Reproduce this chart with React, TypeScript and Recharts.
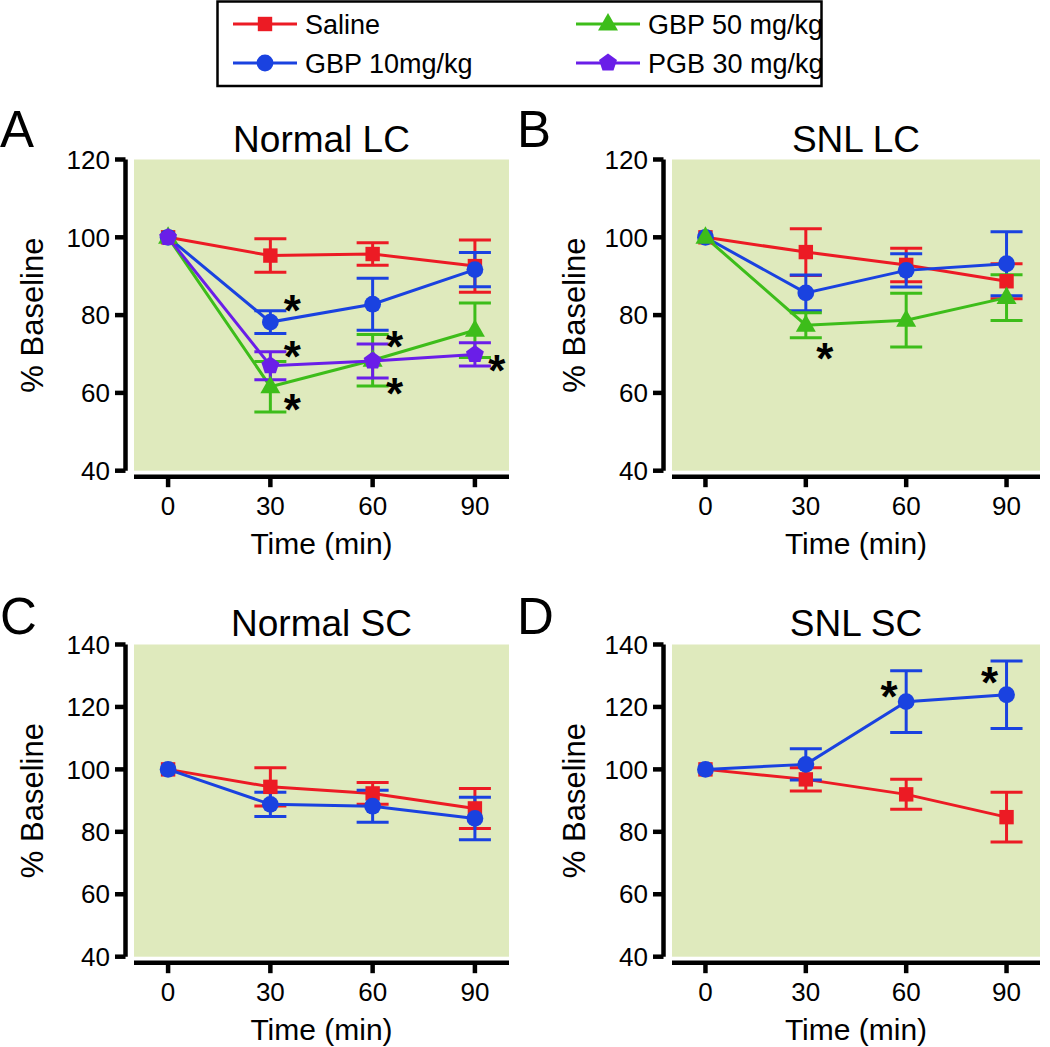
import { CartesianGrid, ComposedChart, ErrorBar, Line, Scatter, XAxis, YAxis } from "recharts";

const FONT = "'Liberation Sans', Arial, sans-serif";
const BG = "#dfeabd";

const times = [0, 30, 60, 90];

// A - Normal LC
const normalLcSaline = [100, 95.3, 95.7, 92.6];
const normalLcSalineErr = [0, 4.3, 2.9, 6.7];
const normalLcGbp10 = [100, 78.2, 82.8, 91.7];
const normalLcGbp10Err = [0, 2.9, 6.7, 4.4];
const normalLcGbp50 = [100, 61.6, 68.4, 76.1];
const normalLcGbp50Err = [0, 6.5, 6.6, 7.0];
const normalLcPgb30 = [100, 67.0, 68.2, 69.9];
const normalLcPgb30Err = [0, 3.6, 4.4, 3.0];
const normalLcStars = [{ t: 30, v: 83.4 }, { t: 30, v: 71.6 }, { t: 30, v: 57.8 }, { t: 60, v: 74.1 }, { t: 60, v: 62.1 }, { t: 90, v: 67.9 }];

// B - SNL LC
const snlLcSaline = [100, 96.2, 92.9, 88.7];
const snlLcSalineErr = [0, 6.0, 4.3, 4.5];
const snlLcGbp10 = [100, 85.7, 91.5, 93.2];
const snlLcGbp10Err = [0, 4.6, 4.3, 8.2];
const snlLcGbp50 = [100, 77.4, 78.7, 84.5];
const snlLcGbp50Err = [0, 3.2, 6.9, 5.9];
const snlLcStars = [{ t: 30, v: 71.1 }];

// C - Normal SC
const normalScSaline = [100, 94.4, 92.3, 87.5];
const normalScSalineErr = [0, 6.1, 3.5, 6.4];
const normalScGbp10 = [100, 88.8, 88.2, 84.3];
const normalScGbp10Err = [0, 3.9, 5.1, 6.8];

// D - SNL SC
const snlScSaline = [100, 96.8, 92.0, 84.7];
const snlScSalineErr = [0, 3.7, 4.8, 8.0];
const snlScGbp10 = [100, 101.6, 121.7, 123.9];
const snlScGbp10Err = [0, 5.0, 9.9, 10.8];
const snlScStars = [{ t: 60, v: 126.2 }, { t: 90, v: 130.6 }];

const lcTicks = [40, 60, 80, 100, 120];
const scTicks = [40, 60, 80, 100, 120, 140];

type Shape = "square" | "circle" | "triangle" | "pentagon";
type Series = { key: string, name: string, color: string, shape: Shape };

const saline: Series = { key: "saline", name: "Saline", color: "#ec1b24", shape: "square" };
const gbp10: Series = { key: "gbp10", name: "GBP 10mg/kg", color: "#1a42e0", shape: "circle" };
const gbp50: Series = { key: "gbp50", name: "GBP 50 mg/kg", color: "#3dbd1a", shape: "triangle" };
const pgb30: Series = { key: "pgb30", name: "PGB 30 mg/kg", color: "#6a1ee8", shape: "pentagon" };

const buildRows = (cols: Record<string, number[]>) =>
    times.map((t, i) => {
        const row: Record<string, number> = { t };
        Object.keys(cols).forEach(k => { row[k] = cols[k][i]; });
        return row;
    });

const Marker = ({ shape, cx, cy, color }: { shape: Shape, cx?: number, cy?: number, color: string }) => {
    if (cx == null || cy == null) return null;
    if (shape === "square") return <rect x={cx - 7.2} y={cy - 7.2} width={14.4} height={14.4} fill={color} />;
    if (shape === "circle") return <circle cx={cx} cy={cy} r={8.4} fill={color} />;
    if (shape === "triangle")
        return <polygon points={`${cx},${cy - 11} ${cx - 10},${cy + 6.5} ${cx + 10},${cy + 6.5}`} fill={color} />;
    const pts = [0, 1, 2, 3, 4].map(i => {
        const a = -Math.PI / 2 + i * 2 * Math.PI / 5;
        return `${cx + 9.4 * Math.cos(a)},${cy + 9.4 * Math.sin(a)}`;
    }).join(" ");
    return <polygon points={pts} fill={color} />;
};

type PanelProps = {
    left: number, top: number, width: number, height: number,
    plotLeft: number, plotRight: number, plotTop: number, plotBottom: number,
    yDomain: [number, number], yTicks: number[], yLabelX: number,
    series: Series[], rows: Record<string, number>[],
    stars: { t: number, v: number }[], starDx: number,
}

const AXIS = { stroke: "#000", strokeWidth: 4.5 };

// recharts draws axis lines thin unless forced
const css = `
.fig .recharts-cartesian-axis-line, .fig .recharts-cartesian-axis-tick-line { stroke: #000; stroke-width: 4.5px; }
.fig .recharts-cartesian-axis-tick-value, .fig .recharts-label { stroke: none; }
`;

const Panel = (p: PanelProps) => {
    const xAxisHeight = 88;
    return (
        <div style={{ position: "absolute", left: p.left, top: p.top }}>
            <ComposedChart width={p.width} height={p.height} data={p.rows}
                margin={{ top: p.plotTop, left: 0, right: p.width - p.plotRight, bottom: p.height - p.plotBottom - xAxisHeight }}>
                <CartesianGrid horizontal={false} vertical={false} fill={BG} fillOpacity={1} stroke="none" />
                <XAxis dataKey="t" type="number" domain={[-10, 100]} ticks={[0, 30, 60, 90]} height={xAxisHeight}
                    axisLine={{ ...AXIS, transform: "translate(0,6)" }}
                    tickLine={{ ...AXIS, transform: "translate(0,6)" }}
                    tickSize={10.5} tickMargin={15.5}
                    tick={{ fontSize: 26, fill: "#000", fontFamily: FONT }}
                    label={{ value: "Time (min)", position: "insideBottom", offset: 5, fontSize: 30, fill: "#000", fontFamily: FONT }} />
                <YAxis type="number" domain={p.yDomain} ticks={p.yTicks} width={p.plotLeft} interval={0}
                    axisLine={{ ...AXIS, transform: "translate(-8.5,0)" }}
                    tickLine={{ ...AXIS, transform: "translate(-8.5,0)" }}
                    tickSize={10.5} tickMargin={13.5}
                    tick={{ fontSize: 26, fill: "#000", fontFamily: FONT }}
                    label={{ value: "% Baseline", angle: -90, position: "insideLeft", offset: p.yLabelX, fontSize: 31, fill: "#000", fontFamily: FONT, style: { textAnchor: "middle" } }} />
                {p.series.map(s =>
                    <Line key={s.key} dataKey={s.key} stroke={s.color} strokeWidth={3} isAnimationActive={false} activeDot={false}
                        dot={(d: any) => <Marker key={d.index} shape={s.shape} cx={d.cx} cy={d.cy} color={s.color} />}>
                        <ErrorBar dataKey={s.key + "Err"} width={16} strokeWidth={3} stroke={s.color} direction="y" />
                    </Line>
                )}
                {p.stars.length > 0 &&
                    <Scatter data={p.stars} dataKey="v" isAnimationActive={false}
                        shape={(d: any) => <text x={d.cx + p.starDx} y={d.cy + 24} textAnchor="middle" fontSize={44} fontWeight="bold" fontFamily={FONT} fill="#000">*</text>} />}
            </ComposedChart>
        </div>
    );
};

const titles = [
    { text: "Normal LC", x: 321.5, y: 152, letter: "A", lx: 0, ly: 146.7 },
    { text: "SNL LC", x: 856, y: 152, letter: "B", lx: 517, ly: 146.7 },
    { text: "Normal SC", x: 321.5, y: 636, letter: "C", lx: 0, ly: 633.5 },
    { text: "SNL SC", x: 856, y: 636, letter: "D", lx: 517, ly: 633.5 },
];

const legendCols = [233, 576];
const legendRows = [24, 63];
const legendItems = [
    { s: saline, col: 0, row: 0 },
    { s: gbp10, col: 0, row: 1 },
    { s: gbp50, col: 1, row: 0 },
    { s: pgb30, col: 1, row: 1 },
];

export default function App() {
    return (
        <div className="fig" style={{ position: "absolute", left: 0, top: 0, width: 1050, height: 1047, background: "#fff", fontFamily: FONT, overflow: "hidden" }}>
            <style>{css}</style>
            <Panel left={0} top={100} width={520} height={480} plotLeft={134} plotRight={509} plotTop={59.5} plotBottom={370.7}
                yDomain={[40, 120]} yTicks={lcTicks} yLabelX={32}
                series={[saline, gbp10, gbp50, pgb30]}
                rows={buildRows({
                    saline: normalLcSaline, salineErr: normalLcSalineErr, gbp10: normalLcGbp10, gbp10Err: normalLcGbp10Err,
                    gbp50: normalLcGbp50, gbp50Err: normalLcGbp50Err, pgb30: normalLcPgb30, pgb30Err: normalLcPgb30Err,
                })}
                stars={normalLcStars} starDx={22} />
            <Panel left={520} top={100} width={530} height={480} plotLeft={152} plotRight={520} plotTop={59.5} plotBottom={370.7}
                yDomain={[40, 120]} yTicks={lcTicks} yLabelX={54}
                series={[saline, gbp10, gbp50]}
                rows={buildRows({
                    saline: snlLcSaline, salineErr: snlLcSalineErr, gbp10: snlLcGbp10, gbp10Err: snlLcGbp10Err,
                    gbp50: snlLcGbp50, gbp50Err: snlLcGbp50Err,
                })}
                stars={snlLcStars} starDx={19} />
            <Panel left={0} top={580} width={520} height={467} plotLeft={134} plotRight={509} plotTop={64.5} plotBottom={376.7}
                yDomain={[40, 140]} yTicks={scTicks} yLabelX={32}
                series={[saline, gbp10]}
                rows={buildRows({ saline: normalScSaline, salineErr: normalScSalineErr, gbp10: normalScGbp10, gbp10Err: normalScGbp10Err })}
                stars={[]} starDx={0} />
            <Panel left={520} top={580} width={530} height={467} plotLeft={152} plotRight={520} plotTop={64.5} plotBottom={376.7}
                yDomain={[40, 140]} yTicks={scTicks} yLabelX={54}
                series={[saline, gbp10]}
                rows={buildRows({ saline: snlScSaline, salineErr: snlScSalineErr, gbp10: snlScGbp10, gbp10Err: snlScGbp10Err })}
                stars={snlScStars} starDx={-17} />
            <svg width={1050} height={1047} style={{ position: "absolute", left: 0, top: 0, pointerEvents: "none" }}>
                {titles.map(t => (
                    <g key={t.letter}>
                        <text x={t.x} y={t.y} textAnchor="middle" fontSize={37} fontFamily={FONT} fill="#000">{t.text}</text>
                        <text x={t.lx} y={t.ly} fontSize={51} fontFamily={FONT} fill="#000">{t.letter}</text>
                    </g>
                ))}
                <rect x={217.5} y={1.5} width={604} height={84.5} fill="#fff" stroke="#000" strokeWidth={2.5} />
                {legendItems.map(({ s, col, row }) => {
                    const x = legendCols[col];
                    const y = legendRows[row];
                    return (
                        <g key={s.key}>
                            <line x1={x} x2={x + 64} y1={y} y2={y} stroke={s.color} strokeWidth={2.8} />
                            <Marker shape={s.shape} cx={x + 32} cy={y} color={s.color} />
                            <text x={x + 72} y={y + 10} fontSize={27} fontFamily={FONT} fill="#000">{s.name}</text>
                        </g>
                    );
                })}
            </svg>
        </div>
    );
}
